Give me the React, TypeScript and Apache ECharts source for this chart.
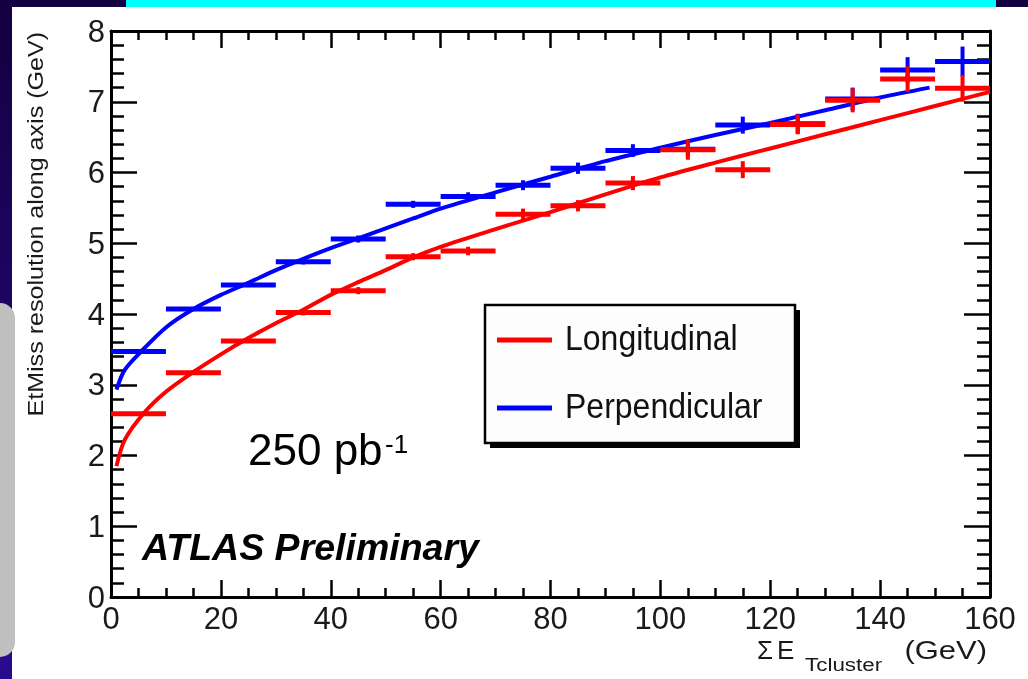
import React, { useEffect, useRef } from "react";
import * as echarts from "echarts";

// Binned resolution measurements (bin centres in GeV, 10 GeV wide bins)
const BIN_CENTERS = [5, 15, 25, 35, 45, 55, 65, 75, 85, 95, 105, 115, 125, 135, 145, 155];
const BIN_HALF = 5;

const LONGITUDINAL = [2.59, 3.17, 3.62, 4.02, 4.33, 4.81, 4.89, 5.41, 5.53, 5.85, 6.32, 6.04, 6.68, 7.02, 7.32, 7.19];
const LONGITUDINAL_ERR = [0.02, 0.03, 0.03, 0.04, 0.05, 0.05, 0.06, 0.08, 0.08, 0.1, 0.14, 0.12, 0.14, 0.17, 0.18, 0.19];

const PERPENDICULAR = [3.47, 4.07, 4.41, 4.74, 5.06, 5.55, 5.66, 5.82, 6.06, 6.31, 6.33, 6.67, 6.69, 7.04, 7.45, 7.57];
const PERPENDICULAR_ERR = [0.02, 0.03, 0.03, 0.04, 0.05, 0.05, 0.06, 0.07, 0.08, 0.09, 0.1, 0.12, 0.14, 0.16, 0.18, 0.21];

// Fitted curves
const LONG_FIT_X = [1, 2.5, 6, 10, 15, 20, 25, 30, 35, 40, 45, 50, 55, 60, 70, 80, 90, 100, 110, 120, 130, 140, 150, 160];
const LONG_FIT_Y = [1.85, 2.22, 2.6, 2.9, 3.18, 3.43, 3.66, 3.87, 4.06, 4.27, 4.45, 4.62, 4.8, 4.95, 5.2, 5.44, 5.69, 5.93, 6.14, 6.34, 6.54, 6.74, 6.94, 7.14];

const PERP_FIT_X = [1, 2.5, 5.5, 10, 15, 20, 25, 30, 35, 40, 45, 50, 55, 60, 70, 80, 90, 100, 110, 120, 130, 140, 149];
const PERP_FIT_Y = [2.93, 3.21, 3.47, 3.81, 4.07, 4.27, 4.44, 4.62, 4.78, 4.93, 5.07, 5.21, 5.35, 5.49, 5.72, 5.94, 6.16, 6.35, 6.53, 6.7, 6.88, 7.06, 7.2];

const X_MIN = 0;
const X_MAX = 160;
const X_STEP = 20;
const Y_MIN = 0;
const Y_MAX = 8;
const Y_STEP = 1;

const RED = "#ff0000";
const BLUE = "#0000ff";
const FONT = "Liberation Sans";

function crossSeries(name: string, values: number[], errors: number[], color: string, z: number) {
  return {
    type: "custom",
    name,
    z,
    clip: false,
    xAxisIndex: 0,
    yAxisIndex: 0,
    encode: { x: 0, y: 1 },
    data: BIN_CENTERS.map((c, i) => [c, values[i], errors[i]]),
    renderItem: (_params: any, api: any) => {
      const x = api.value(0);
      const y = api.value(1);
      const e = api.value(2);
      const l = api.coord([x - BIN_HALF, y]);
      const r = api.coord([x + BIN_HALF, y]);
      const t = api.coord([x, y + e]);
      const b = api.coord([x, y - e]);
      return {
        type: "group",
        children: [
          { type: "line", shape: { x1: l[0], y1: l[1], x2: r[0], y2: r[1] }, style: { stroke: color, lineWidth: 5 } },
          { type: "line", shape: { x1: t[0], y1: t[1], x2: b[0], y2: b[1] }, style: { stroke: color, lineWidth: 4 } },
        ],
      };
    },
  };
}

function fitSeries(name: string, xs: number[], ys: number[], color: string, z: number) {
  return {
    type: "line",
    name,
    z,
    xAxisIndex: 0,
    yAxisIndex: 0,
    data: xs.map((x, i) => [x, ys[i]]),
    smooth: 0.3,
    showSymbol: false,
    symbol: "none",
    lineStyle: { color, width: 4 },
  };
}

function tickAxis(kind: "x" | "y", position: string, showLabels: boolean) {
  const isX = kind === "x";
  return {
    type: "value",
    position,
    min: isX ? X_MIN : Y_MIN,
    max: isX ? X_MAX : Y_MAX,
    interval: isX ? X_STEP : Y_STEP,
    axisLine: { show: true, onZero: false, lineStyle: { color: "#000", width: 3 } },
    axisTick: { show: true, inside: true, length: isX ? 17 : 26, lineStyle: { color: "#000", width: 2.5 } },
    minorTick: { show: true, splitNumber: isX ? 4 : 5, length: isX ? 9 : 13, lineStyle: { color: "#000", width: 2.5 } },
    splitLine: { show: false },
    minorSplitLine: { show: false },
    axisLabel: {
      show: showLabels,
      fontSize: 31,
      fontFamily: FONT,
      color: "#1a1a1a",
      margin: 6,
    },
  };
}

function text(
  t: string,
  x: number,
  y: number,
  size: number,
  extra: Record<string, any> = {},
  el: Record<string, any> = {}
) {
  return {
    type: "text",
    x,
    y,
    z: 50,
    ...el,
    style: {
      text: t,
      fontSize: size,
      fontFamily: FONT,
      fill: "#111",
      textAlign: "left",
      textVerticalAlign: "middle",
      verticalAlign: "middle",
      ...extra,
    },
  };
}

export default function App() {
  const ref = useRef<HTMLDivElement>(null);

  useEffect(() => {
    if (!ref.current) return;
    const chart = echarts.init(ref.current, undefined, { renderer: "svg" });

    const background = [
      {
        type: "rect",
        z: -100,
        shape: { x: 0, y: 0, width: 1028, height: 679 },
        style: {
          fill: new echarts.graphic.LinearGradient(0, 0, 0, 1, [
            { offset: 0, color: "#140040" },
            { offset: 1, color: "#2a0b8f" },
          ]),
        },
      },
      { type: "rect", z: -99, shape: { x: 126, y: 0, width: 870, height: 7 }, style: { fill: "#00ffff" } },
      { type: "rect", z: -98, shape: { x: 12, y: 7, width: 1016, height: 672 }, style: { fill: "#ffffff" } },
      { type: "rect", z: -97, shape: { x: -20, y: 303, width: 35, height: 354, r: 15 }, style: { fill: "#c0c0c0" } },
    ];

    const legend = [
      { type: "rect", z: 40, shape: { x: 490, y: 310, width: 310, height: 138 }, style: { fill: "#000" } },
      {
        type: "rect",
        z: 41,
        shape: { x: 485, y: 305, width: 310, height: 138 },
        style: { fill: "#fdfdfd", stroke: "#000", lineWidth: 2.5 },
      },
      { type: "line", z: 42, shape: { x1: 497, y1: 340, x2: 552, y2: 340 }, style: { stroke: RED, lineWidth: 5 } },
      { type: "line", z: 42, shape: { x1: 497, y1: 408, x2: 552, y2: 408 }, style: { stroke: BLUE, lineWidth: 5 } },
      text("Longitudinal", 565, 338, 32, {}, { z: 43, scaleY: 1.09 }),
      text("Perpendicular", 565, 406, 32, {}, { z: 43, scaleY: 1.09 }),
    ];

    const labels = [
      // y axis title, reading bottom to top
      text("EtMiss resolution along axis (GeV)", 36, 32, 22, { textAlign: "right", fill: "#1a1a1a" }, {
        rotation: Math.PI / 2,
        scaleX: 1.14,
      }),
      // x axis title
      text("Σ", 757, 649.5, 26, { fill: "#1a1a1a", lineHeight: 20 }),
      text("E", 777, 649.5, 26, { fill: "#1a1a1a", lineHeight: 20 }),
      text("Tcluster", 805, 664.5, 19, { fill: "#1a1a1a", lineHeight: 15 }, { scaleX: 1.18 }),
      text("(GeV)", 987, 649.5, 26, { textAlign: "right", fill: "#1a1a1a", lineHeight: 20 }, { scaleX: 1.19 }),
      // luminosity
      text("250 pb", 248, 449.6, 44, { fill: "#000" }),
      text("-1", 385, 444, 26, { fill: "#000" }),
      // experiment label
      text("ATLAS Preliminary", 142, 547, 37.5, { fill: "#000", fontWeight: "bold", fontStyle: "italic" }),
    ];

    chart.setOption({
      animation: false,
      backgroundColor: "transparent",
      grid: { left: 111, right: 38, top: 31, bottom: 82, containLabel: false },
      xAxis: [tickAxis("x", "bottom", true), tickAxis("x", "top", false)],
      yAxis: [tickAxis("y", "left", true), tickAxis("y", "right", false)],
      series: [
        crossSeries("Perpendicular points", PERPENDICULAR, PERPENDICULAR_ERR, BLUE, 3),
        fitSeries("Perpendicular", PERP_FIT_X, PERP_FIT_Y, BLUE, 4),
        crossSeries("Longitudinal points", LONGITUDINAL, LONGITUDINAL_ERR, RED, 5),
        fitSeries("Longitudinal", LONG_FIT_X, LONG_FIT_Y, RED, 6),
      ],
      graphic: [...background, ...legend, ...labels],
    });

    return () => chart.dispose();
  }, []);

  return (
    <div
      ref={ref}
      style={{ position: "fixed", left: 0, top: 0, width: 1028, height: 679 }}
    />
  );
}
